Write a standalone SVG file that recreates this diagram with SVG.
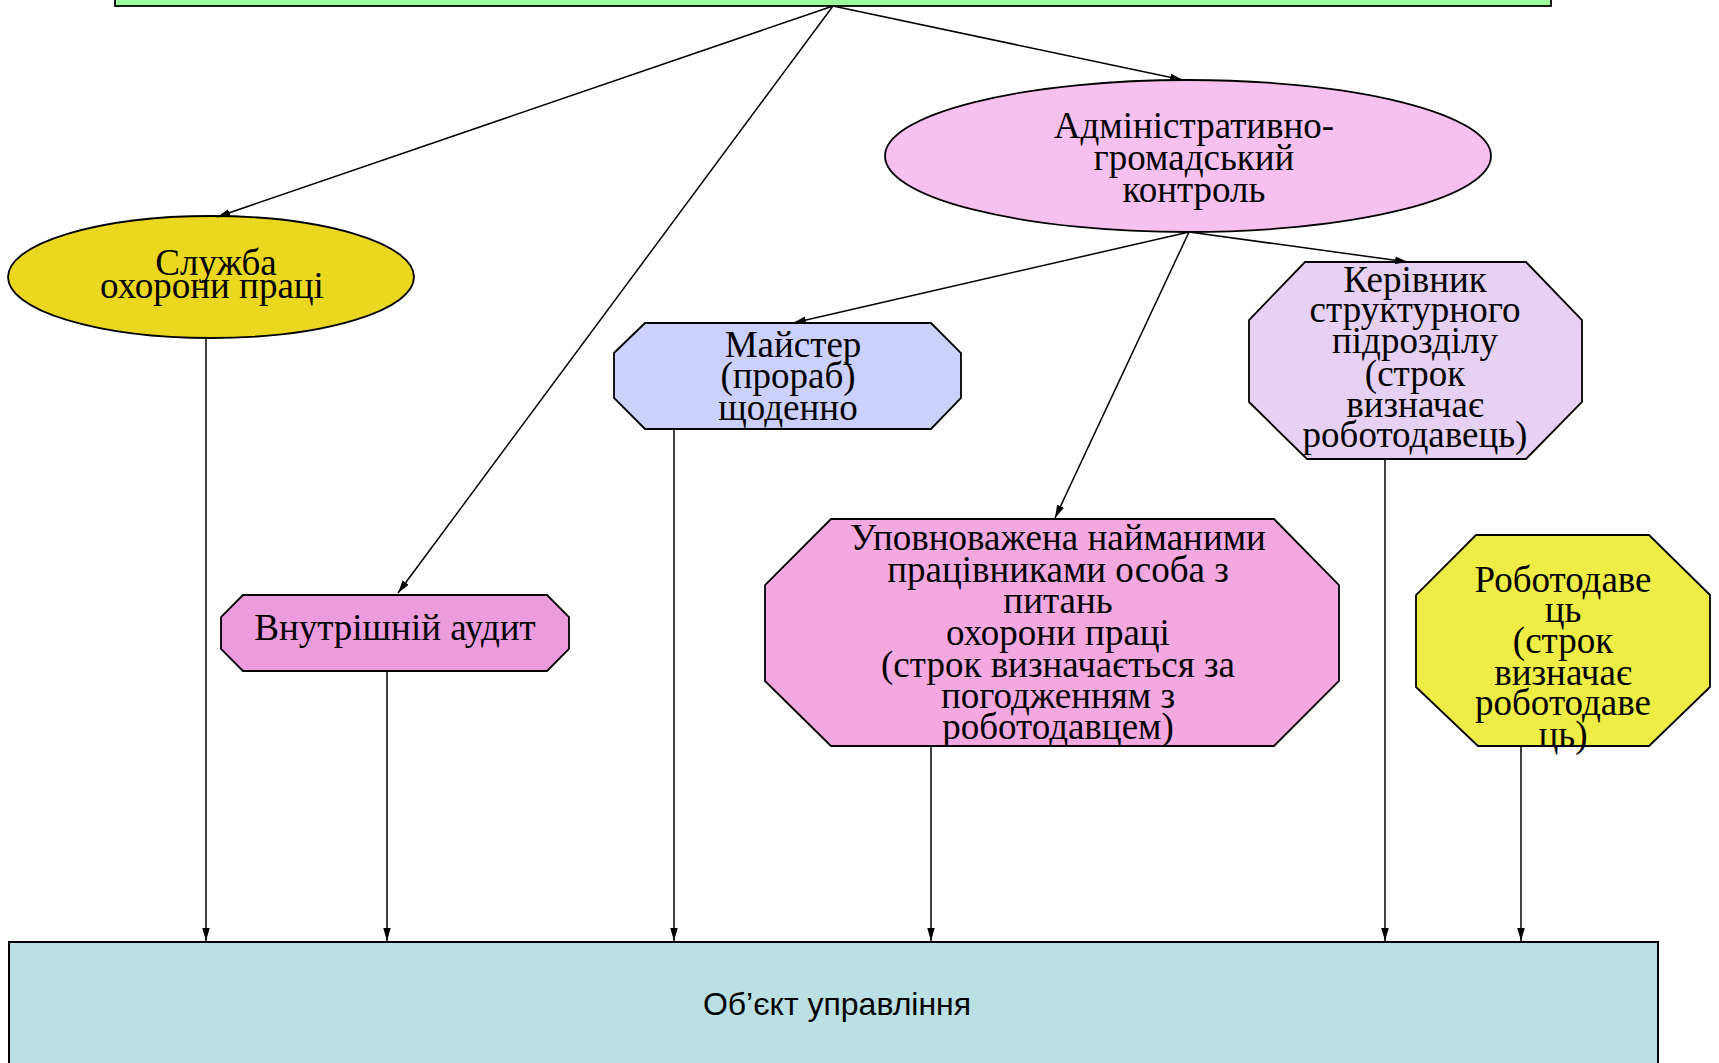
<svg xmlns="http://www.w3.org/2000/svg" width="1719" height="1063" viewBox="0 0 1719 1063">
<style>
.n{stroke:#000;stroke-width:1.8}
.t{font-family:"Liberation Serif","Times New Roman",serif;font-size:37px;fill:#000;text-anchor:middle}
.s{font-family:"Liberation Sans",Arial,sans-serif;font-size:32px;fill:#000;text-anchor:middle}
.c line{stroke:#000;stroke-width:1.5;marker-end:url(#ah)}
</style>
<defs>
<marker id="ah" markerWidth="14" markerHeight="8" refX="13" refY="3.75" orient="auto" markerUnits="userSpaceOnUse">
<path d="M0,0 L13,3.75 L0,7.5 z" fill="#000"/>
</marker>
</defs>
<rect width="1719" height="1063" fill="#fff"/>
<g id="top">
<rect class="n" x="115" y="-20" width="1436" height="26" fill="#9BFA9B"/>
</g>
<g id="sluzhba">
<ellipse class="n" cx="211" cy="277" rx="203" ry="61" fill="#EAD720"/>
<text class="t" x="216" y="275">Служба</text>
<text class="t" x="212" y="298">охорони праці</text>
</g>
<g id="admin">
<ellipse class="n" cx="1188" cy="156" rx="303" ry="76" fill="#F7C1EF"/>
<text class="t" x="1194" y="138">Адміністративно-</text>
<text class="t" x="1194" y="170">громадський</text>
<text class="t" x="1194" y="202">контроль</text>
</g>
<g id="maister">
<polygon class="n" points="645,323 931,323 961,353 961,398 931,429 645,429 614,398 614,353" fill="#CCD1FB"/>
<text class="t" x="793" y="357">Майстер</text>
<text class="t" x="788" y="388">(прораб)</text>
<text class="t" x="788" y="420">щоденно</text>
</g>
<g id="kerivnyk">
<polygon class="n" points="1305,262 1526,262 1582,320 1582,402 1526,459 1307,459 1249,402 1249,320" fill="#E6D1F3"/>
<text class="t" x="1415" y="292">Керівник</text>
<text class="t" x="1415" y="322">структурного</text>
<text class="t" x="1415" y="353">підрозділу</text>
<text class="t" x="1415" y="386">(строк</text>
<text class="t" x="1415" y="417">визначає</text>
<text class="t" x="1415" y="447">роботодавець)</text>
</g>
<g id="upovnovazhena">
<polygon class="n" points="831,519 1274,519 1339,585 1339,681 1274,746 831,746 765,681 765,585" fill="#F4A8E0"/>
<text class="t" x="1058" y="550">Уповноважена найманими</text>
<text class="t" x="1058" y="582">працівниками особа з</text>
<text class="t" x="1058" y="613">питань</text>
<text class="t" x="1058" y="645">охорони праці</text>
<text class="t" x="1058" y="677">(строк визначається за</text>
<text class="t" x="1058" y="708">погодженням з</text>
<text class="t" x="1058" y="739">роботодавцем)</text>
</g>
<g id="audyt">
<polygon class="n" points="243,595 547,595 569,617 569,649 547,671 243,671 221,649 221,617" fill="#EC9CDD"/>
<text class="t" x="395" y="640">Внутрішній аудит</text>
</g>
<g id="robotodavets">
<polygon class="n" points="1476,535 1649,535 1710,595 1710,687 1649,746 1478,746 1416,687 1416,595" fill="#EDED45"/>
<text class="t" x="1563" y="592">Роботодаве</text>
<text class="t" x="1563" y="622">ць</text>
<text class="t" x="1563" y="653">(строк</text>
<text class="t" x="1563" y="685">визначає</text>
<text class="t" x="1563" y="715">роботодаве</text>
<text class="t" x="1563" y="747">ць)</text>
</g>
<g id="obiekt">
<rect x="9" y="942" width="1649" height="140" fill="#BAE0E3" stroke="#000" stroke-width="2"/>
<text class="s" x="837" y="1015">Об’єкт управління</text>
</g>
<g class="c" id="connectors">
<line x1="833" y1="6" x2="217" y2="217"/>
<line x1="833" y1="6" x2="398" y2="593"/>
<line x1="833" y1="6" x2="1183" y2="80"/>
<line x1="1189" y1="232" x2="793" y2="323"/>
<line x1="1189" y1="232" x2="1408" y2="262"/>
<line x1="1189" y1="232" x2="1055" y2="518"/>
<line x1="206" y1="338" x2="206" y2="941"/>
<line x1="387" y1="671" x2="387" y2="941"/>
<line x1="674" y1="429" x2="674" y2="941"/>
<line x1="931" y1="746" x2="931" y2="941"/>
<line x1="1385" y1="459" x2="1385" y2="941"/>
<line x1="1521" y1="746" x2="1521" y2="941"/>
</g>
</svg>
